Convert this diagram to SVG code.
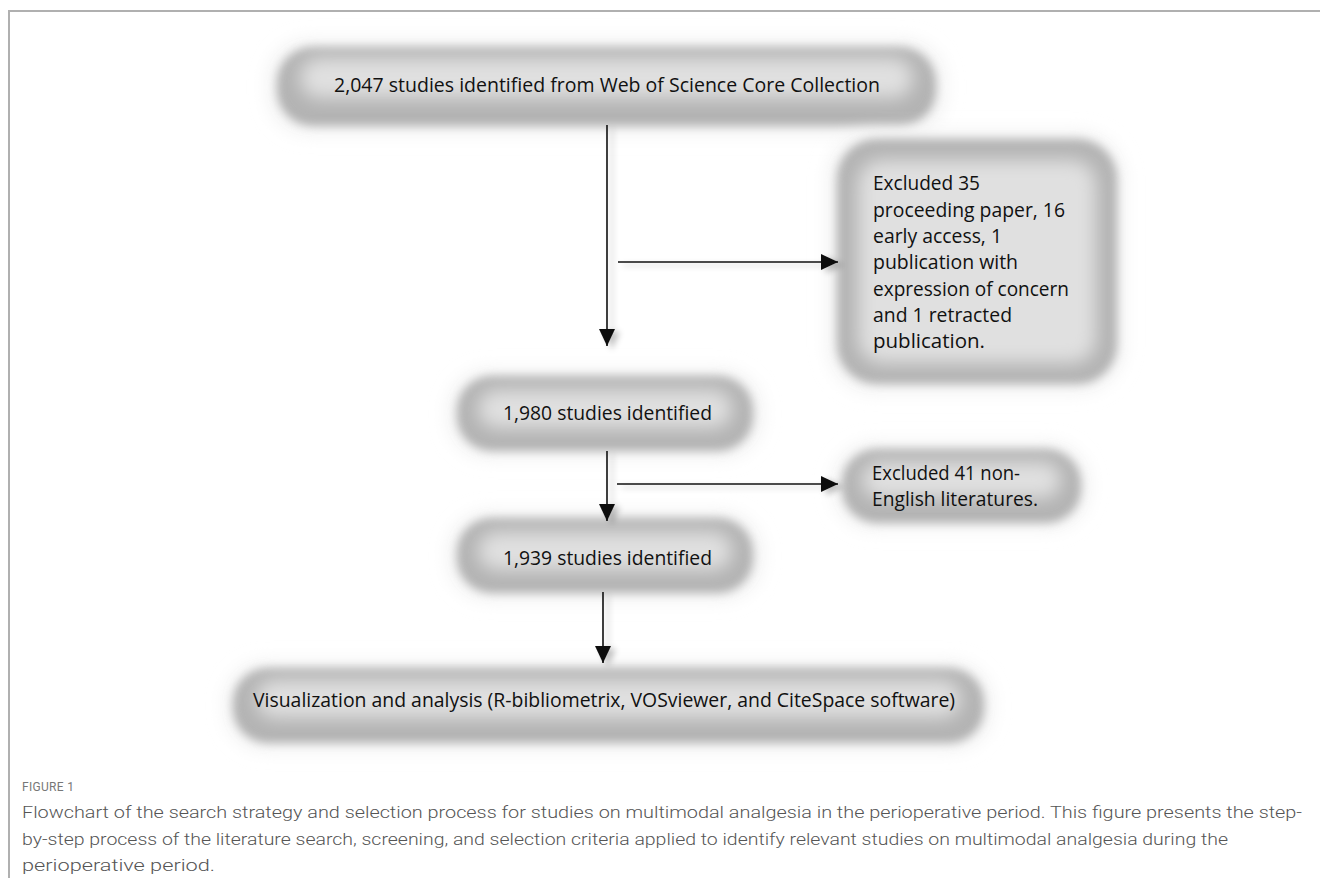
<svg xmlns="http://www.w3.org/2000/svg" width="1320" height="878" viewBox="0 0 1320 878">
<defs>
<style>
.frame{stroke:#b0b0b0;stroke-width:2;fill:none}
.outer{fill:#b3b3b3}
.inner{fill:#e0e0e0}
.glow{fill:#f2f2f2}
.t{font-family:"Open Sans","Noto Sans","Liberation Sans",sans-serif;font-size:20px;fill:#111}
.conn{stroke:#111;stroke-width:1.6;fill:none}
.cap{font-family:Roboto,"Liberation Sans",sans-serif;font-weight:300;font-size:16px;fill:#555}
.fig{font-family:Roboto,"Liberation Sans",sans-serif;font-size:12px;fill:#777;letter-spacing:0.3px}
</style>
<filter id="b1" x="-20%" y="-40%" width="140%" height="180%"><feGaussianBlur stdDeviation="5"/></filter>
<filter id="b2" x="-20%" y="-40%" width="140%" height="180%"><feGaussianBlur stdDeviation="9"/></filter>
<filter id="sh" x="-50%" y="-10%" width="200%" height="120%">
<feGaussianBlur in="SourceAlpha" stdDeviation="3" result="b"/>
<feOffset dx="5" dy="3" in="b" result="o"/>
<feComponentTransfer in="o" result="o2"><feFuncA type="linear" slope="0.25"/></feComponentTransfer>
<feMerge><feMergeNode in="o2"/><feMergeNode in="SourceGraphic"/></feMerge>
</filter>
<marker id="ah" markerUnits="userSpaceOnUse" markerWidth="18" markerHeight="16" refX="17" refY="8" orient="auto">
<path d="M0,0 L17,8 L0,16 Z" fill="#111"/>
</marker>
</defs>
<rect width="1320" height="878" fill="#fff"/>
<path class="frame" d="M9,878 V11 H1320"/>

<g id="n1">
<rect class="glow" x="268" y="40" width="677" height="94" rx="40" filter="url(#b2)"/>
<rect class="outer" x="277" y="47" width="659" height="79" rx="36" filter="url(#b1)"/>
<rect class="inner" x="300" y="58" width="613" height="40" rx="20" filter="url(#b2)"/>
<text class="t" x="607" y="92" text-anchor="middle" textLength="546" lengthAdjust="spacingAndGlyphs">2,047 studies identified from Web of Science Core Collection</text>
</g>

<g id="n2">
<rect class="glow" x="828" y="132" width="296" height="260" rx="46" filter="url(#b2)"/>
<rect class="outer" x="837" y="139" width="280" height="245" rx="40" filter="url(#b1)"/>
<rect class="inner" x="858" y="160" width="238" height="203" rx="24" filter="url(#b2)"/>
<text class="t" x="873" y="190" textLength="107" lengthAdjust="spacingAndGlyphs">Excluded 35</text>
<text class="t" x="873" y="216.5" textLength="192" lengthAdjust="spacingAndGlyphs">proceeding paper, 16</text>
<text class="t" x="873" y="243" textLength="129" lengthAdjust="spacingAndGlyphs">early access, 1</text>
<text class="t" x="873" y="269" textLength="145" lengthAdjust="spacingAndGlyphs">publication with</text>
<text class="t" x="873" y="295.5" textLength="196" lengthAdjust="spacingAndGlyphs">expression of concern</text>
<text class="t" x="873" y="322" textLength="139" lengthAdjust="spacingAndGlyphs">and 1 retracted</text>
<text class="t" x="873" y="348" textLength="112" lengthAdjust="spacingAndGlyphs">publication.</text>
</g>

<g id="n3">
<rect class="glow" x="448" y="370" width="314" height="88" rx="40" filter="url(#b2)"/>
<rect class="outer" x="457" y="376" width="296" height="75" rx="35" filter="url(#b1)"/>
<rect class="inner" x="478" y="390" width="254" height="38" rx="19" filter="url(#b2)"/>
<text class="t" x="607.5" y="420" text-anchor="middle" textLength="209" lengthAdjust="spacingAndGlyphs">1,980 studies identified</text>
</g>

<g id="n4">
<rect class="glow" x="833" y="443" width="256" height="86" rx="40" filter="url(#b2)"/>
<rect class="outer" x="842" y="449" width="239" height="74" rx="35" filter="url(#b1)"/>
<rect class="inner" x="862" y="462" width="199" height="36" rx="18" filter="url(#b2)"/>
<text class="t" x="872" y="480" textLength="148" lengthAdjust="spacingAndGlyphs">Excluded 41 non-</text>
<text class="t" x="872" y="506" textLength="166" lengthAdjust="spacingAndGlyphs">English literatures.</text>
</g>

<g id="n5">
<rect class="glow" x="448" y="512" width="314" height="88" rx="40" filter="url(#b2)"/>
<rect class="outer" x="457" y="518" width="296" height="75" rx="35" filter="url(#b1)"/>
<rect class="inner" x="478" y="532" width="254" height="38" rx="19" filter="url(#b2)"/>
<text class="t" x="607.5" y="565" text-anchor="middle" textLength="209" lengthAdjust="spacingAndGlyphs">1,939 studies identified</text>
</g>

<g id="n6">
<rect class="glow" x="225" y="662" width="767" height="88" rx="40" filter="url(#b2)"/>
<rect class="outer" x="233" y="668" width="751" height="75" rx="35" filter="url(#b1)"/>
<rect class="inner" x="256" y="680" width="705" height="38" rx="19" filter="url(#b2)"/>
<text class="t" x="604" y="707" text-anchor="middle" textLength="702" lengthAdjust="spacingAndGlyphs">Visualization and analysis (R-bibliometrix, VOSviewer, and CiteSpace software)</text>
</g>

<g id="connectors" filter="url(#sh)">
<line class="conn" x1="607" y1="125" x2="607" y2="346" marker-end="url(#ah)"/>
<line class="conn" x1="618" y1="262" x2="838" y2="262" marker-end="url(#ah)"/>
<line class="conn" x1="607" y1="451" x2="607" y2="521" marker-end="url(#ah)"/>
<line class="conn" x1="617" y1="484" x2="838" y2="484" marker-end="url(#ah)"/>
<line class="conn" x1="603" y1="592" x2="603" y2="663" marker-end="url(#ah)"/>
</g>

<g id="caption">
<text class="fig" x="22" y="791">FIGURE 1</text>
<text class="cap" x="22" y="818" textLength="1280" lengthAdjust="spacingAndGlyphs">Flowchart of the search strategy and selection process for studies on multimodal analgesia in the perioperative period. This figure presents the step-</text>
<text class="cap" x="22" y="845" textLength="1206" lengthAdjust="spacingAndGlyphs">by-step process of the literature search, screening, and selection criteria applied to identify relevant studies on multimodal analgesia during the</text>
<text class="cap" x="22" y="871" textLength="193" lengthAdjust="spacingAndGlyphs">perioperative period.</text>
</g>
</svg>
